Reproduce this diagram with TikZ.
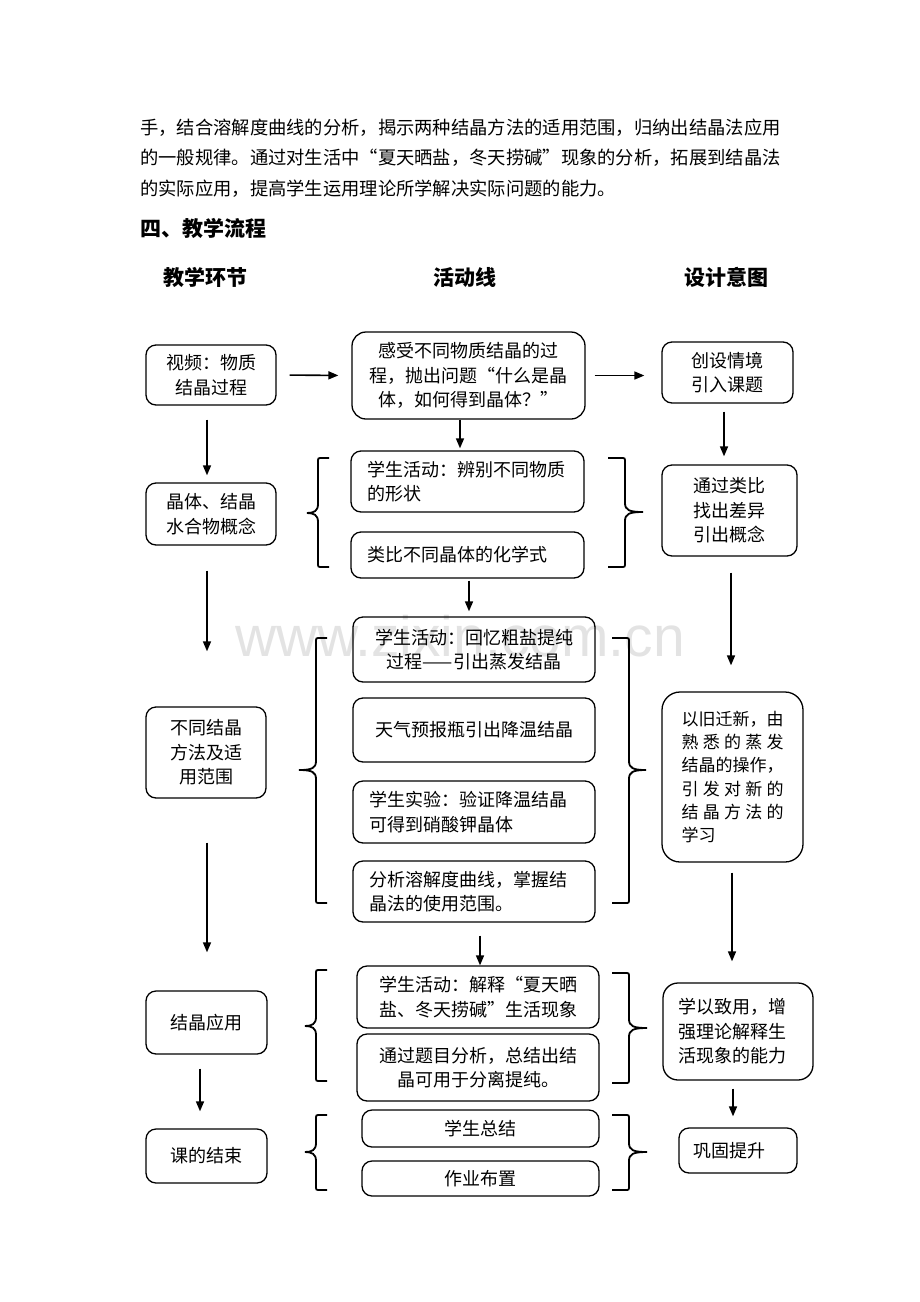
\documentclass[tikz,border=0pt]{standalone}
\usepackage{fontspec}
\setmainfont{Noto Sans CJK SC}
\newfontfamily\marcafont{Liberation Sans}
\usepackage{tikz}
\usetikzlibrary{arrows.meta}
\newcommand{\qab}{\makebox[1em][r]{“}}
\newcommand{\qcie}{\makebox[1em][l]{”}}
\newcommand{\repartir}[1]{\makebox[102pt]{#1}}

\tikzset{
  caja/.style={draw, line width=1.3pt, rounded corners=10pt, inner xsep=0pt, inner ysep=0pt, align=center, font=\fontsize{18}{24.5}\selectfont},
  flecha/.style={line width=1.6pt, -{Triangle[length=10pt,width=8pt]}},
  llave/.style={line width=1.8pt},
  titulo/.style={inner sep=0pt, font=\bfseries\fontsize{21}{21}\selectfont},
  texto/.style={anchor=west, inner sep=0pt, font=\fontsize{18.3}{18.3}\selectfont},
}

\begin{document}
\begin{tikzpicture}[x=1pt,y=-1pt]
\useasboundingbox (0,0) rectangle (920,1302);
\node[text=gray!22, font=\marcafont\fontsize{57}{57}\selectfont] (marca) at (460,636) {www.zixin.com.cn}; % marca de agua

% parrafo
\node[texto] (linea1) at (140,128) {手，结合溶解度曲线的分析，揭示两种结晶方法的适用范围，归纳出结晶法应用};
\node[texto] (linea2) at (140,158) {的一般规律。通过对生活中\qab 夏天晒盐，冬天捞碱\qcie 现象的分析，拓展到结晶法};
\node[texto] (linea3) at (140,189) {的实际应用，提高学生运用理论所学解决实际问题的能力。};
\node[titulo, anchor=west] (seccion) at (140,228) {四、教学流程};

% columnas
\node[titulo] (col1) at (205,277) {教学环节};
\node[titulo] (col2) at (465,277) {活动线};
\node[titulo] (col3) at (726,277) {设计意图};

% fila 1
\node[caja, minimum width=130, minimum height=60] (etapa1) at (211,375) {视频：物质\\结晶过程};
\node[caja, rounded corners=14pt, minimum width=233, minimum height=87] (act1) at (468.5,375.5) {感受不同物质结晶的过\\程，抛出问题“什么是晶\\体，如何得到晶体？”};
\node[caja, minimum width=131, minimum height=61] (fin1) at (727.5,372.5) {创设情境\\引入课题};

% fila 2
\node[caja, minimum width=130, minimum height=62] (etapa2) at (211,514) {晶体、结晶\\水合物概念};
\node[caja, minimum width=233, minimum height=61, text width=201, align=left] (act2a) at (467.5,481.5) {学生活动：辨别不同物质\\的形状};
\node[caja, minimum width=233, minimum height=46, text width=201, align=left] (act2b) at (467.5,555) {类比不同晶体的化学式};
\node[caja, minimum width=135, minimum height=91] (fin2) at (729.5,510.5) {通过类比\\找出差异\\引出概念};

% fila 3
\node[caja, minimum width=120, minimum height=91] (etapa3) at (206,752.5) {不同结晶\\方法及适\\用范围};
\node[caja, minimum width=242, minimum height=65] (act3a) at (474,649.5) {学生活动：回忆粗盐提纯\\过程——引出蒸发结晶};
\node[caja, minimum width=242, minimum height=64] (act3b) at (474,730) {天气预报瓶引出降温结晶};
\node[caja, minimum width=242, minimum height=62, text width=210, align=left] (act3c) at (474,812) {学生实验：验证降温结晶\\可得到硝酸钾晶体};
\node[caja, minimum width=242, minimum height=61, text width=210, align=left] (act3d) at (474,891.5) {分析溶解度曲线，掌握结\\晶法的使用范围。};
\node[caja, rounded corners=18pt, minimum width=141, minimum height=170, text width=102, align=left, font=\fontsize{17}{23.3}\selectfont] (fin3) at (732.5,777)
  {以旧迁新，由\\\repartir{熟\hfill 悉\hfill 的\hfill 蒸\hfill 发}\\结晶的操作，\\\repartir{引\hfill 发\hfill 对\hfill 新\hfill 的}\\\repartir{结\hfill 晶\hfill 方\hfill 法\hfill 的}\\学习};

% fila 4
\node[caja, minimum width=121, minimum height=63] (etapa4) at (206.5,1022.5) {结晶应用};
\node[caja, minimum width=242, minimum height=62] (act4a) at (478,997) {学生活动：解释\qab 夏天晒\\盐、冬天捞碱\qcie 生活现象};
\node[caja, minimum width=242, minimum height=67] (act4b) at (478,1067.5) {通过题目分析，总结出结\\晶可用于分离提纯。};
\node[caja, rounded corners=15pt, minimum width=150, minimum height=97, text width=120, align=left] (fin4) at (738,1031.5) {学以致用，增\\强理论解释生\\活现象的能力};

% fila 5
\node[caja, minimum width=121, minimum height=54] (etapa5) at (206.5,1156) {课的结束};
\node[caja, minimum width=237, minimum height=37] (act5a) at (480.5,1128.5) {学生总结};
\node[caja, minimum width=237, minimum height=35] (act5b) at (480.5,1178.5) {作业布置};
\node[caja, minimum width=118, minimum height=45, text width=90, align=left] (fin5) at (738,1150.5) {巩固提升};

% flechas horizontales
\draw[flecha, shorten <=13pt, shorten >=13pt] (etapa1.east) -- (act1.west);
\draw[flecha, shorten <=9pt, shorten >=17pt] (act1.east) -- (act1.east -| fin1.west);

% flechas verticales
\draw[flecha, shorten <=14pt, shorten >=7pt] ([xshift=-4pt]etapa1.south) -- ([xshift=-4pt]etapa2.north);
\draw[flecha, shorten <=25pt, shorten >=55pt] ([xshift=-4pt]etapa2.south) -- ([xshift=1pt]etapa3.north);
\draw[flecha, shorten <=44pt, shorten >=38pt] ([xshift=1pt]etapa3.south) -- ([xshift=0.5pt]etapa4.north);
\draw[flecha, shorten <=14pt, shorten >=17pt] ([xshift=-6.5pt]etapa4.south) -- ([xshift=-6.5pt]etapa5.north);
\draw[flecha, shorten >=2pt] ([xshift=-8.5pt]act1.south) -- ([xshift=-7.5pt]act2a.north);
\draw[flecha, shorten <=2pt, shorten >=5pt] ([xshift=1.5pt]act2b.south) -- ([xshift=-5pt]act3a.north);
\draw[flecha, shorten <=13pt] ([xshift=6pt]act3d.south) -- ([xshift=2pt]act4a.north);
\draw[flecha, shorten <=8pt, shorten >=8pt] ([xshift=-3.5pt]fin1.south) -- ([xshift=-5.5pt]fin2.north);
\draw[flecha, shorten <=16pt, shorten >=26pt] ([xshift=1.5pt]fin2.south) -- ([xshift=-1.5pt]fin3.north);
\draw[flecha, shorten <=10pt, shorten >=21pt] ([xshift=-0.5pt]fin3.south) -- ([xshift=-6pt]fin4.north);
\draw[flecha, shorten <=8pt, shorten >=11pt] ([xshift=-5pt]fin4.south) -- ([xshift=-5pt]fin5.north);

% llaves
\foreach \xv/\xt/\ya/\ym/\yb in {318/307/458/513/567, 316/299/638/770/903, 316/305/970/1026/1081, 316/305/1115/1152/1190}
  \draw[llave] (\xv+11,\ya) -- (\xv+4,\ya) .. controls (\xv,\ya) .. (\xv,\ya+4) -- (\xv,\ym-9) .. controls (\xv,\ym-2) and (\xv-4,\ym) .. (\xt,\ym)
    .. controls (\xv-4,\ym) and (\xv,\ym+2) .. (\xv,\ym+9) -- (\xv,\yb-4) .. controls (\xv,\yb) .. (\xv+4,\yb) -- (\xv+11,\yb);
\foreach \xv/\xt/\ya/\ym/\yb in {625/643/458/512/567, 629/646/638/770/903, 629/647/973/1028/1083, 629/647/1115/1152/1190}
  \draw[llave] (\xv-17,\ya) -- (\xv-4,\ya) .. controls (\xv,\ya) .. (\xv,\ya+4) -- (\xv,\ym-9) .. controls (\xv,\ym-2) and (\xv+4,\ym) .. (\xt,\ym)
    .. controls (\xv+4,\ym) and (\xv,\ym+2) .. (\xv,\ym+9) -- (\xv,\yb-4) .. controls (\xv,\yb) .. (\xv-4,\yb) -- (\xv-17,\yb);
\end{tikzpicture}
\end{document}
